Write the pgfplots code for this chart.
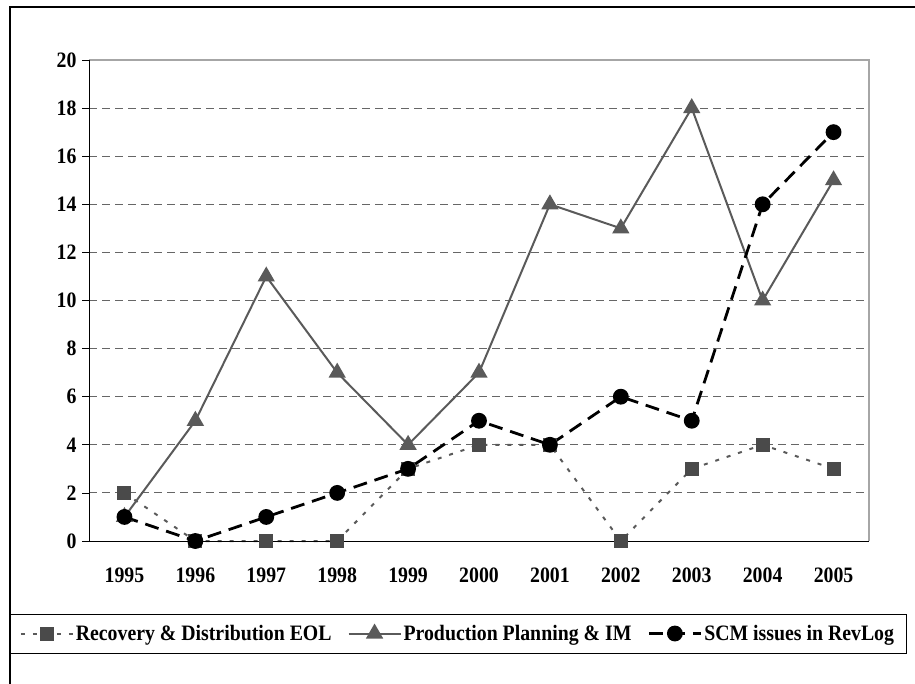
\documentclass[border=0pt]{standalone}
\usepackage{fontspec}
\setmainfont{Liberation Serif}[FakeStretch=0.9]
\usepackage{pgfplots}
\pgfplotsset{compat=1.18}
\definecolor{lgray}{HTML}{5A5A5A}
\definecolor{mgray}{HTML}{4A4A4A}
\begin{document}
\begin{tikzpicture}
\useasboundingbox (0,0) rectangle (915pt,683pt);
\draw[line width=1.3pt] (10pt,-1pt) -- (10pt,676pt) -- (916pt,676pt);
\draw[line width=1pt] (10pt,30pt) rectangle (906pt,69pt);
\begin{axis}[
  at={(89pt,142pt)}, anchor=south west,
  scale only axis, width=780pt, height=481pt,
  xmin=-0.5, xmax=10.5, ymin=0, ymax=20,
  axis line style={draw=none},
  xtick={0,...,10},
  xticklabels={1995,1996,1997,1998,1999,2000,2001,2002,2003,2004,2005},
  minor xtick={-0.5,0.5,...,10.5},
  ytick={0,2,...,20},
  xtick pos=bottom, ytick pos=left,
  tick align=outside,
  major tick length=7pt, minor tick length=7pt,
  xtick style={draw=none},
  minor x tick style={black, line width=0.8pt},
  y tick style={black, line width=0.8pt},
  ymajorgrids,
  major grid style={dash pattern=on 8pt off 5pt, line width=1pt, gray!80!black},
  ticklabel style={font=\fontsize{22}{26}\selectfont\bfseries},
  /pgf/number format/assume math mode=true,
  xticklabel style={yshift=-16pt},
  yticklabel style={xshift=-2pt},
  legend columns=3,
  legend style={at={(0.473,-0.1923)}, anchor=center, draw=none, fill=none,
    font=\fontsize{22}{26}\selectfont\bfseries,
    /tikz/every even column/.append style={column sep=14pt}},
  legend cell align=left,
  legend image code/.code={\draw[mark repeat=2,mark phase=2] plot coordinates {(0pt,0pt)(26pt,0pt)(52pt,0pt)};},
  clip=false,
]
\addplot[lgray, line width=2pt, dash pattern=on 4pt off 8pt, mark=square*, mark size=6pt, mark options={solid, fill=mgray, draw=mgray}]
  coordinates {(0,2)(1,0)(2,0)(3,0)(4,3)(5,4)(6,4)(7,0)(8,3)(9,4)(10,3)};
\addlegendentry{Recovery \& Distribution EOL}
\addplot[lgray, line width=2pt, mark=triangle*, mark size=8pt, mark options={solid, fill=lgray, draw=lgray}]
  coordinates {(0,1)(1,5)(2,11)(3,7)(4,4)(5,7)(6,14)(7,13)(8,18)(9,10)(10,15)};
\addlegendentry{Production Planning \& IM}
\addplot[black, line width=2.8pt, dash pattern=on 14pt off 8pt, mark=*, mark size=6.5pt, mark options={solid, fill=black}]
  coordinates {(0,1)(1,0)(2,1)(3,2)(4,3)(5,5)(6,4)(7,6)(8,5)(9,14)(10,17)};
\addlegendentry{SCM issues in RevLog}
\draw[gray!70, line width=1.5pt] (rel axis cs:0,1) -- (rel axis cs:1,1) -- (rel axis cs:1,0);
\draw[black, line width=1pt] (rel axis cs:0,1) -- (rel axis cs:0,0) -- (rel axis cs:1,0);
\end{axis}
\end{tikzpicture}
\end{document}
